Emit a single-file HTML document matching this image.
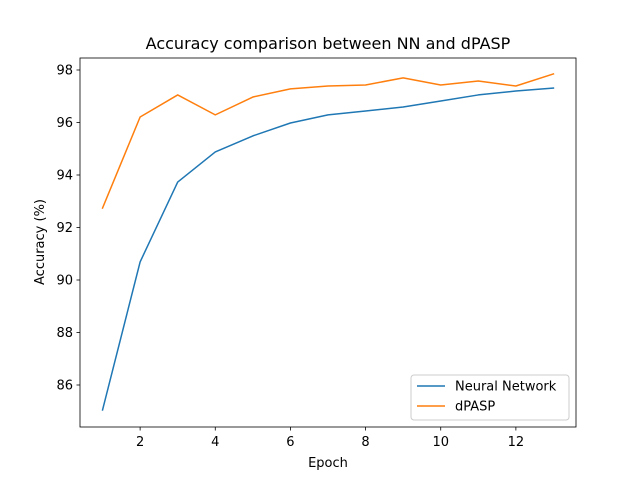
<!DOCTYPE html>
<html><head><meta charset="utf-8"><style>
body{margin:0;background:#fff;}
svg text{font-family:"DejaVu Sans","Liberation Sans",sans-serif;fill:#000;}
</style></head><body>
<svg id="chart" width="640" height="480" xmlns="http://www.w3.org/2000/svg">
<rect width="640" height="480" fill="#fff"/>
<text x="328" y="49" font-size="16" text-anchor="middle">Accuracy comparison between NN and dPASP</text>
<g id="grid"></g>
<g id="series"></g>
<rect x="80" y="58" width="496" height="369" fill="none" stroke="#000" stroke-width="0.8"/>
<text x="328" y="467" font-size="13" text-anchor="middle">Epoch</text>
<text x="0" y="0" font-size="13" text-anchor="middle" transform="translate(44,242) rotate(-90)">Accuracy (%)</text>
<g>
<rect x="411" y="375" width="158" height="45" rx="3" fill="#fff" fill-opacity="0.8" stroke="#ccc" stroke-width="1"/>
<line x1="417" y1="386" x2="445" y2="386" stroke="#1f77b4" stroke-width="1.5"/>
<text x="455" y="390.5" font-size="13">Neural Network</text>
<line x1="417" y1="406" x2="445" y2="406" stroke="#ff7f0e" stroke-width="1.5"/>
<text x="455" y="410.5" font-size="13">dPASP</text>
</g>
</svg>
<script>
const epochs=[1,2,3,4,5,6,7,8,9,10,11,12,13];
const nnValues=[85.05,90.69,93.73,94.88,95.49,95.98,96.29,96.44,96.59,96.82,97.05,97.2,97.31];
const dpaspValues=[92.74,96.21,97.05,96.29,96.97,97.28,97.39,97.43,97.7,97.43,97.58,97.39,97.85];
const xTicks=[2,4,6,8,10,12];
const yTicks=[86,88,90,92,94,96,98];
const X0=80,X1=576,Y0=58,Y1=427;
const xMin=0.4,xMax=13.6,yMin=84.4,yMax=98.457;
function sx(v){return X0+(v-xMin)/(xMax-xMin)*(X1-X0);}
function sy(v){return Y1-(v-yMin)/(yMax-yMin)*(Y1-Y0);}
const NS="http://www.w3.org/2000/svg";
const g=document.getElementById('grid');
function mk(tag,attrs,parent){const e=document.createElementNS(NS,tag);for(const k in attrs)e.setAttribute(k,attrs[k]);parent.appendChild(e);return e;}
xTicks.forEach(t=>{
  const l=mk('line',{x1:sx(t),x2:sx(t),y1:Y1,y2:Y1+3.5,stroke:'#000','stroke-width':0.8},g);
  
  
  const tx=mk('text',{x:sx(t),y:Y1+19,'font-size':13,'text-anchor':'middle'},g);
  tx.textContent=t;
  
  
});
yTicks.forEach(t=>{
  const l=mk('line',{x1:X0-3.5,x2:X0,y1:sy(t),y2:sy(t),stroke:'#000','stroke-width':0.8},g);
  
  
  const tx=mk('text',{x:X0-7,y:sy(t)+4.5,'font-size':13,'text-anchor':'end'},g);
  tx.textContent=t;
  
  
});
const s=document.getElementById('series');
function line(vals,color,name){
  const d=vals.map((v,i)=>(i?'L':'M')+sx(epochs[i]).toFixed(2)+','+sy(v).toFixed(2)).join(' ');
  const p=mk('path',{d:d,fill:'none',stroke:color,'stroke-width':1.5,'stroke-linejoin':'round','stroke-linecap':'square'},s);
  
  
}
line(nnValues,'#1f77b4','neural-network-line');
line(dpaspValues,'#ff7f0e','dpasp-line');
</script>
</body></html>
